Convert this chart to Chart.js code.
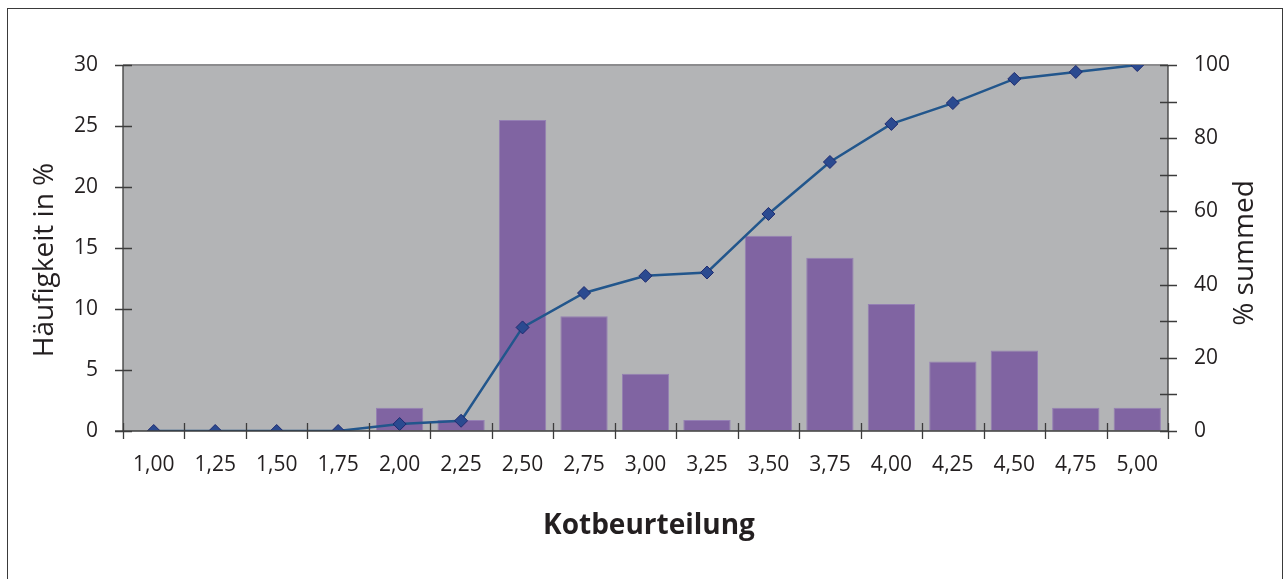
<!DOCTYPE html>
<html>
<head>
<meta charset="utf-8">
<script src="https://cdn.jsdelivr.net/npm/chart.js@4.4.1/dist/chart.umd.min.js"></script>
<style>
  html, body { margin: 0; padding: 0; background: #ffffff; }
  #wrap { width: 1288px; height: 579px; }
</style>
</head>
<body>
<div id="wrap"><canvas id="chart" width="1288" height="579"></canvas></div>
<script>
// Kotbeurteilung (score classes)
const categories = ['1,00','1,25','1,50','1,75','2,00','2,25','2,50','2,75','3,00','3,25','3,50','3,75','4,00','4,25','4,50','4,75','5,00'];
// Frequency per class, in %
const frequency = [0, 0, 0, 0, 1.9, 0.9, 25.5, 9.4, 4.7, 0.9, 16.0, 14.2, 10.4, 5.7, 6.6, 1.9, 1.9];
// Cumulative frequency, in %
const cumulative = [0, 0, 0, 0, 1.9, 2.8, 28.3, 37.7, 42.4, 43.3, 59.3, 73.5, 83.9, 89.6, 96.2, 98.1, 100];
// Axis ticks
const leftTicks = [0, 5, 10, 15, 20, 25, 30];
const rightTicks = [0, 10, 20, 30, 40, 50, 60, 70, 80, 90, 100];

const FONT = '"Open Sans", "Noto Sans", sans-serif';
const TEXT = '#231f20';

// Plot background, outer frame, axis lines, tick marks and axis titles
const decor = {
  id: 'decor',
  beforeDraw(chart) {
    const ctx = chart.ctx, a = chart.chartArea;
    ctx.save();
    ctx.fillStyle = '#ffffff';
    ctx.fillRect(0, 0, chart.width, chart.height);
    ctx.fillStyle = '#b3b4b6';
    ctx.fillRect(a.left, a.top, a.right - a.left, a.bottom - a.top);
    ctx.strokeStyle = '#3a3a3a';
    ctx.lineWidth = 1;
    ctx.strokeRect(7.5, 8.5, 1275, 700);
    // top edge of the plot area
    ctx.strokeStyle = '#8c8c8e';
    ctx.lineWidth = 2;
    ctx.beginPath();
    ctx.moveTo(a.left, a.top);
    ctx.lineTo(a.right, a.top);
    ctx.stroke();
    ctx.restore();
  },
  afterDatasetsDraw(chart) {
    const ctx = chart.ctx, a = chart.chartArea;
    const x = chart.scales.x, y = chart.scales.y, y1 = chart.scales.y1;
    ctx.save();
    ctx.strokeStyle = '#3c3c3c';
    ctx.lineWidth = 1.3;
    ctx.beginPath();
    // axis lines
    ctx.moveTo(a.left, a.top); ctx.lineTo(a.left, a.bottom);
    ctx.moveTo(a.right, a.top); ctx.lineTo(a.right, a.bottom);
    ctx.moveTo(a.left - 8, a.bottom); ctx.lineTo(a.right, a.bottom);
    // left ticks
    leftTicks.forEach(v => {
      const py = Math.round(y.getPixelForValue(v)) + 0.5;
      ctx.moveTo(a.left - 8, py); ctx.lineTo(a.left + 9, py);
    });
    // right ticks
    rightTicks.forEach(v => {
      const py = Math.round(y1.getPixelForValue(v)) + 0.5;
      ctx.moveTo(a.right - 8, py); ctx.lineTo(a.right + 9, py);
    });
    // category boundary ticks
    const n = categories.length;
    for (let i = 0; i <= n; i++) {
      let px;
      if (i === 0) px = a.left;
      else if (i === n) px = a.right;
      else px = (x.getPixelForValue(i - 1) + x.getPixelForValue(i)) / 2;
      px = Math.round(px) + 0.5;
      ctx.moveTo(px, a.bottom - 8); ctx.lineTo(px, a.bottom + 8);
    }
    ctx.stroke();
    ctx.restore();
  },
  afterDraw(chart) {
    const ctx = chart.ctx, a = chart.chartArea;
    ctx.save();
    ctx.fillStyle = TEXT;
    ctx.textAlign = 'center';
    ctx.textBaseline = 'middle';
    ctx.font = '28px ' + FONT;
    ctx.save();
    ctx.translate(45, 260);
    ctx.rotate(-Math.PI / 2);
    ctx.fillText('Häufigkeit in %', 0, 0);
    ctx.restore();
    ctx.save();
    ctx.translate(1245, 253);
    ctx.rotate(-Math.PI / 2);
    ctx.fillText('% summed', 0, 0);
    ctx.restore();
    ctx.font = 'bold 28px ' + FONT;
    ctx.fillText('Kotbeurteilung', 649, 526);
    ctx.restore();
  }
};

new Chart(document.getElementById('chart'), {
  data: {
    labels: categories,
    datasets: [
      {
        type: 'line',
        label: '% summed',
        data: cumulative,
        yAxisID: 'y1',
        order: 0,
        borderColor: '#22568c',
        borderWidth: 2.5,
        tension: 0,
        pointStyle: 'rectRot',
        pointRadius: 6.5,
        pointBackgroundColor: '#2b4a90',
        pointBorderColor: '#1f2b70',
        pointBorderWidth: 1
      },
      {
        type: 'bar',
        label: 'Häufigkeit in %',
        data: frequency,
        yAxisID: 'y',
        order: 1,
        backgroundColor: '#8064a2',
        borderColor: '#9580b4',
        borderWidth: 1,
        barPercentage: 0.77,
        categoryPercentage: 1
      }
    ]
  },
  options: {
    responsive: false,
    animation: false,
    layout: { padding: { top: 65, left: 0, right: 0, bottom: 0 } },
    plugins: { legend: { display: false }, tooltip: { enabled: false } },
    scales: {
      x: {
        type: 'category',
        offset: true,
        grid: { display: true, drawOnChartArea: false, drawTicks: false, color: 'transparent' },
        border: { display: false },
        ticks: { color: TEXT, font: { family: FONT, size: 21 }, padding: 21, maxRotation: 0, autoSkip: false },
        afterFit(s) { s.height = 148; }
      },
      y: {
        position: 'left',
        min: 0, max: 30,
        grid: { display: true, drawOnChartArea: false, drawTicks: false, color: 'transparent' },
        border: { display: false },
        ticks: { stepSize: 5, color: TEXT, font: { family: FONT, size: 21 }, padding: 25 },
        afterFit(s) { s.width = 123; }
      },
      y1: {
        position: 'right',
        min: 0, max: 100,
        grid: { display: true, drawOnChartArea: false, drawTicks: false, color: 'transparent' },
        border: { display: false },
        ticks: { stepSize: 20, color: TEXT, font: { family: FONT, size: 21 }, padding: 26 },
        afterFit(s) { s.width = 120; }
      }
    }
  },
  plugins: [decor]
});
</script>
</body>
</html>
